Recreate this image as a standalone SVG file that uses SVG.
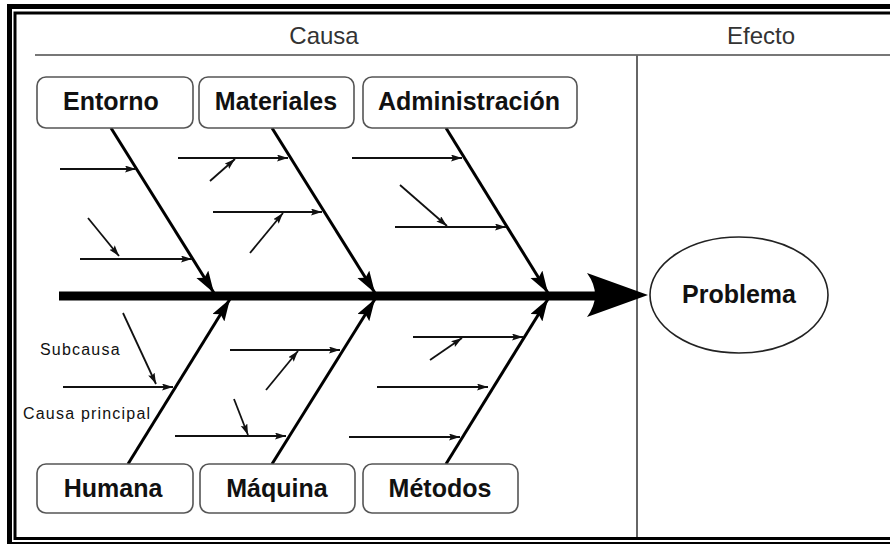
<svg xmlns="http://www.w3.org/2000/svg" width="890" height="544" viewBox="0 0 890 544">
<style>
.box{fill:#fff;stroke:#555;stroke-width:1.6}
.lbl{font-family:"Liberation Sans",Arial,sans-serif;font-weight:bold;font-size:25px;fill:#111;text-anchor:middle}
.hdr{font-family:"Liberation Sans",Arial,sans-serif;font-size:24px;fill:#333;text-anchor:middle}
.note{font-family:"Liberation Sans",Arial,sans-serif;font-size:16px;fill:#111;letter-spacing:1.2px}
.bone{stroke:#000;stroke-width:3;fill:none;marker-end:url(#bh)}
.sub{stroke:#111;stroke-width:1.8;fill:none;marker-end:url(#sh)}
</style>
<defs>
<marker id="bh" markerUnits="userSpaceOnUse" markerWidth="24" markerHeight="16" refX="22" refY="7" orient="auto">
<path d="M0,0 L22,7 L0,14 L4,7 Z" fill="#000"/>
</marker>
<marker id="sh" markerUnits="userSpaceOnUse" markerWidth="12" markerHeight="8" refX="11" refY="3.5" orient="auto">
<path d="M0,0 L11,3.5 L0,7 L2,3.5 Z" fill="#111"/>
</marker>
</defs>
<rect x="0" y="0" width="890" height="544" fill="#fff"/>
<g id="frame">
<rect x="9.5" y="6.5" width="900" height="538" fill="none" stroke="#000" stroke-width="5"/>
<rect x="15" y="13" width="900" height="525.5" fill="none" stroke="#000" stroke-width="3"/>
<line x1="35" y1="55" x2="890" y2="55" stroke="#777" stroke-width="2.2"/>
<line x1="637" y1="55" x2="637" y2="537" stroke="#666" stroke-width="2"/>
<text class="hdr" x="324" y="44">Causa</text>
<text class="hdr" x="761" y="44">Efecto</text>
</g>
<g id="connectors">
<line x1="59" y1="296" x2="600" y2="296" stroke="#000" stroke-width="9"/>
<path d="M648,295 L587,273 Q603,295 587,317 Z" fill="#000"/>
<line class="bone" x1="111" y1="128" x2="214" y2="293"/>
<line class="bone" x1="272" y1="128" x2="375" y2="293"/>
<line class="bone" x1="446" y1="128" x2="548" y2="293"/>
<line class="bone" x1="128" y1="464" x2="230" y2="299"/>
<line class="bone" x1="272" y1="464" x2="375" y2="299"/>
<line class="bone" x1="446" y1="464" x2="548" y2="299"/>
<line class="sub" x1="60" y1="169" x2="136" y2="169"/>
<line class="sub" x1="80" y1="259" x2="192" y2="259"/>
<line class="sub" x1="88" y1="218" x2="119" y2="256"/>
<line class="sub" x1="178" y1="158" x2="288" y2="158"/>
<line class="sub" x1="210" y1="181" x2="235" y2="159"/>
<line class="sub" x1="213" y1="212" x2="322" y2="212"/>
<line class="sub" x1="250" y1="253" x2="283" y2="213"/>
<line class="sub" x1="352" y1="158" x2="462" y2="158"/>
<line class="sub" x1="400" y1="185" x2="447" y2="226"/>
<line class="sub" x1="395" y1="227" x2="506" y2="227"/>
<line class="sub" x1="63" y1="387" x2="173" y2="387"/>
<line class="sub" x1="123" y1="313" x2="156" y2="384"/>
<line class="sub" x1="230" y1="350" x2="340" y2="350"/>
<line class="sub" x1="266" y1="390" x2="298" y2="351"/>
<line class="sub" x1="175" y1="436" x2="286" y2="436"/>
<line class="sub" x1="234" y1="399" x2="248" y2="435"/>
<line class="sub" x1="413" y1="337" x2="523" y2="337"/>
<line class="sub" x1="430" y1="360" x2="462" y2="338"/>
<line class="sub" x1="377" y1="387" x2="488" y2="387"/>
<line class="sub" x1="349" y1="437" x2="460" y2="437"/>
<text class="note" x="40" y="355">Subcausa</text>
<text class="note" x="23" y="419">Causa principal</text>
</g>
<g id="entorno"><rect class="box" x="37" y="77" width="156" height="51" rx="9"/><text class="lbl" x="111" y="110">Entorno</text></g>
<g id="materiales"><rect class="box" x="199" y="77" width="155" height="51" rx="9"/><text class="lbl" x="276" y="110">Materiales</text></g>
<g id="administracion"><rect class="box" x="363" y="77" width="214" height="51" rx="9"/><text class="lbl" x="469" y="110">Administración</text></g>
<g id="humana"><rect class="box" x="37" y="464" width="156" height="49" rx="9"/><text class="lbl" x="113" y="497">Humana</text></g>
<g id="maquina"><rect class="box" x="200" y="464" width="155" height="49" rx="9"/><text class="lbl" x="277" y="497">Máquina</text></g>
<g id="metodos"><rect class="box" x="363" y="464" width="155" height="49" rx="9"/><text class="lbl" x="440" y="497">Métodos</text></g>
<g id="problema"><ellipse cx="739" cy="295" rx="89" ry="58" fill="#fff" stroke="#222" stroke-width="1.6"/><text class="lbl" x="739" y="303">Problema</text></g>
</svg>
